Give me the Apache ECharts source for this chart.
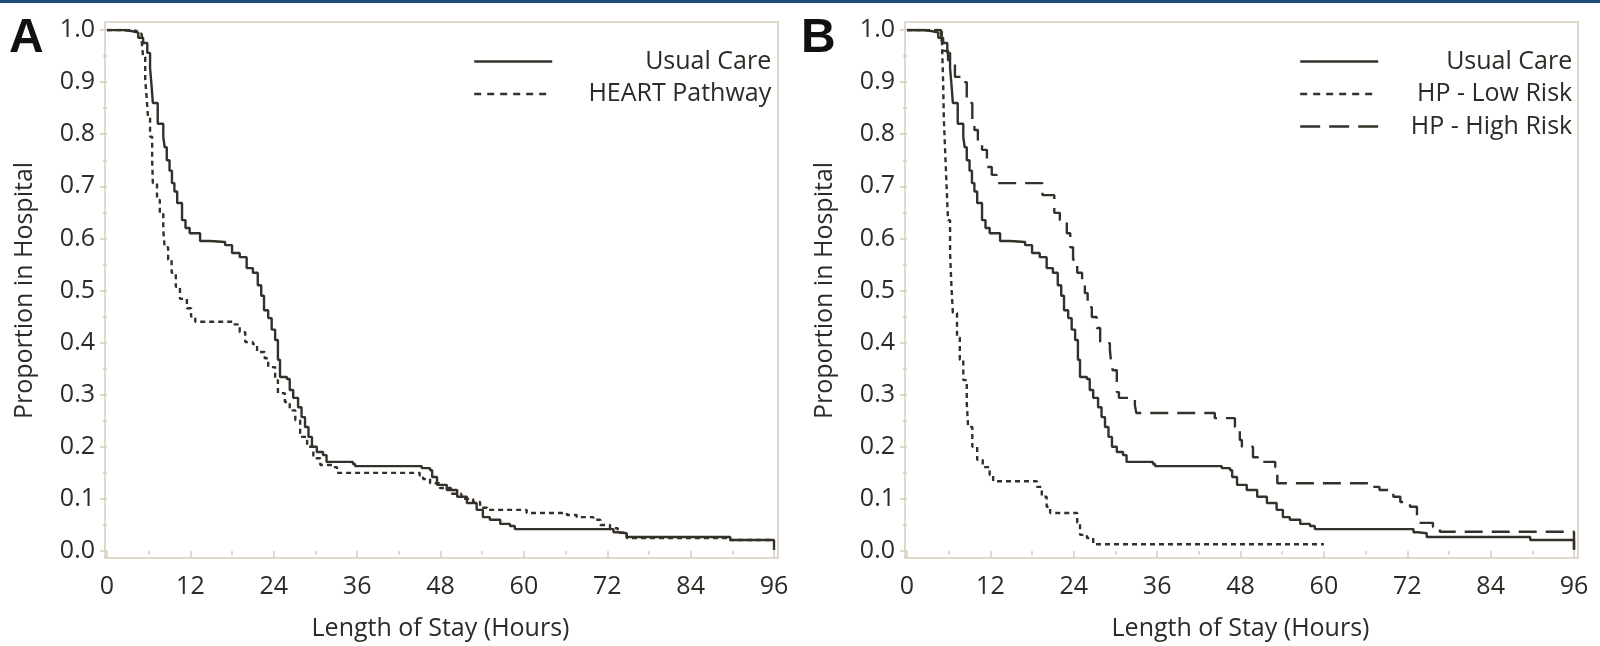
<!DOCTYPE html>
<html>
<head>
<meta charset="utf-8">
<script src="https://cdn.jsdelivr.net/npm/echarts@6/dist/echarts.min.js"></script>
<style>
html,body{margin:0;padding:0;background:#fff;}
#chart{width:1600px;height:646px;}
</style>
</head>
<body>
<div id="chart"></div>
<script>
// ---- data (hours, proportion still in hospital) ----
const xTicks = [0, 12, 24, 36, 48, 60, 72, 84, 96];
const yTicks = [0.0, 0.1, 0.2, 0.3, 0.4, 0.5, 0.6, 0.7, 0.8, 0.9, 1.0];

const usualCare = [
  [0,1.0],[2.3,0.998],[3.5,0.995],[4.5,0.985],[5.2,0.975],[5.8,0.956],[6.2,0.927],[6.4,0.895],[6.6,0.86],
  [7.3,0.82],[8.1,0.795],[8.3,0.775],[8.6,0.75],[9.0,0.73],[9.35,0.706],[9.7,0.69],[10.1,0.668],[10.8,0.635],[11.3,0.62],[11.9,0.61],
  [13.4,0.595],[14.8,0.593],[17,0.587],[18,0.572],[19.1,0.564],[20.1,0.543],[21,0.534],
  [21.7,0.51],[22.2,0.49],[22.6,0.462],[23.2,0.447],[23.7,0.425],[24.2,0.405],[24.6,0.367],
  [24.9,0.334],[25.9,0.33],[26.3,0.309],[26.8,0.294],[27.5,0.276],[28,0.257],[28.5,0.238],
  [29,0.219],[29.5,0.2],[30.2,0.19],[31.1,0.184],[31.6,0.171],[35.4,0.167],[35.7,0.163],
  [45.3,0.159],[46.5,0.155],[46.8,0.142],[47.5,0.127],[48.9,0.117],[50.4,0.104],[51.8,0.092],
  [53.2,0.079],[54.1,0.065],[55.1,0.06],[56.6,0.052],[58,0.048],[58.7,0.042],[72.9,0.036],
  [73.5,0.034],[74.8,0.027],[89.7,0.021],[96,0.021],[96,0.002]
];

const heartPathway = [
  [0,1.0],[3.5,0.998],[4.3,0.993],[5.0,0.977],[5.2,0.948],[5.5,0.904],[5.7,0.871],[5.9,0.833],
  [6.2,0.795],[6.5,0.75],[6.6,0.706],[7.2,0.674],[7.6,0.649],[8.1,0.616],[8.3,0.583],[8.8,0.559],
  [9.3,0.534],[9.9,0.507],[10.5,0.484],[11.5,0.466],[12.1,0.45],[12.7,0.44],[18.1,0.435],
  [19.1,0.42],[19.9,0.401],[21,0.397],[21.6,0.382],[22.7,0.37],[23.2,0.353],[24.2,0.328],
  [24.6,0.303],[25.6,0.286],[26.3,0.27],[27.1,0.251],[27.8,0.219],[28.8,0.2],[29.7,0.178],
  [30.7,0.165],[32.5,0.161],[33.1,0.15],[45,0.145],[45.5,0.138],[46.5,0.13],[47.9,0.121],
  [49.5,0.11],[51,0.1],[52.7,0.094],[53.7,0.083],[54.7,0.079],[60.4,0.073],[66.2,0.069],
  [67.6,0.065],[70,0.06],[71,0.05],[72.4,0.044],[73.5,0.035],[74.8,0.025],[89.7,0.021],[96,0.021]
];

const lowRisk = [
  [0,1.0],[4.7,1.0],[5.0,0.99],[5.2,0.9],[5.3,0.83],[5.5,0.764],[5.7,0.7],[5.9,0.635],[6.2,0.572],
  [6.4,0.507],[6.6,0.457],[7.2,0.41],[7.6,0.367],[8.1,0.328],[8.6,0.284],[8.8,0.238],[9.4,0.2],
  [10.1,0.175],[10.9,0.161],[11.9,0.146],[12.4,0.134],[18.7,0.123],[19.4,0.104],[20.1,0.085],
  [20.6,0.073],[24.5,0.054],[24.9,0.031],[25.9,0.025],[26.8,0.013],[60,0.013]
];

const highRisk = [
  [0,1.0],[4.9,0.995],[5.1,0.96],[5.9,0.942],[6.9,0.91],[7.9,0.9],[8.6,0.86],[9.4,0.827],
  [9.7,0.808],[10.2,0.783],[10.8,0.77],[11.5,0.737],[12.2,0.722],[12.9,0.706],[19.5,0.683],
  [21.2,0.649],[22,0.635],[23,0.61],[23.5,0.583],[23.9,0.559],[24.5,0.534],[25.2,0.514],
  [25.6,0.495],[26,0.468],[26.6,0.449],[27.3,0.428],[27.8,0.399],[29.2,0.386],[29.4,0.36],
  [29.6,0.347],[30.2,0.305],[30.5,0.294],[32.8,0.28],[33,0.265],[44.3,0.255],[47.2,0.238],
  [47.9,0.213],[48.2,0.2],[49.8,0.18],[50.5,0.171],[53,0.161],[53.3,0.13],[66.4,0.123],
  [68,0.117],[70,0.104],[71,0.094],[72.4,0.085],[73.4,0.069],[73.6,0.054],[75.7,0.046],
  [76.7,0.037],[96,0.037],[96,0.002]
];

const panelLetters = ['A', 'B'];
const xTitle = 'Length of Stay (Hours)';
const yTitle = 'Proportion in Hospital';

// ---- styling ----
const FONT = '"Open Sans", "Noto Sans", sans-serif';
const TXT = '#2e2a26';
const FRAME = '#d6ccbb';
const LINE = '#35302a';
const DOT = [5, 4];
const DASH = [18, 9];

const chart = echarts.init(document.getElementById('chart'), null, {renderer: 'canvas'});

function frameGrid(left) {
  return {left: left, top: 22, width: 673, height: 536, show: true, borderColor: FRAME, borderWidth: 1.5, backgroundColor: 'transparent', containLabel: false};
}
function dataGrid(left) {
  return {left: left, top: 30, width: 667, height: 521, containLabel: false};
}
function hiddenX(g) { return {type: 'value', gridIndex: g, show: false, min: 0, max: 1}; }
function hiddenY(g) { return {type: 'value', gridIndex: g, show: false, min: 0, max: 1}; }
function dataX(g) {
  return {
    type: 'value', gridIndex: g, min: xTicks[0], max: xTicks[xTicks.length - 1], interval: 12,
    offset: 7,
    axisLine: {show: false},
    axisTick: {show: true, length: 7, lineStyle: {color: FRAME, width: 1.5}},
    minorTick: {show: true, splitNumber: 2, length: 4, lineStyle: {color: FRAME, width: 1.5}},
    splitLine: {show: false}, minorSplitLine: {show: false},
    axisLabel: {margin: 16, fontSize: 25, fontFamily: FONT, color: TXT},
    name: xTitle, nameLocation: 'middle', nameGap: 58,
    nameTextStyle: {fontSize: 25, fontFamily: FONT, color: TXT}
  };
}
function dataY(g) {
  return {
    type: 'value', gridIndex: g, min: yTicks[0], max: yTicks[yTicks.length - 1], interval: 0.1,
    offset: 2,
    axisLine: {show: false},
    axisTick: {show: true, length: 7, lineStyle: {color: FRAME, width: 1.5}},
    minorTick: {show: true, splitNumber: 2, length: 4, lineStyle: {color: FRAME, width: 1.5}},
    splitLine: {show: false}, minorSplitLine: {show: false},
    axisLabel: {margin: 10, fontSize: 25, fontFamily: FONT, color: TXT, formatter: v => v.toFixed(1)},
    name: yTitle, nameLocation: 'middle', nameGap: 68,
    nameTextStyle: {fontSize: 25, fontFamily: FONT, color: TXT}
  };
}
function km(name, data, axis, dash) {
  return {
    name: name, type: 'line', xAxisIndex: axis, yAxisIndex: axis, data: data, step: 'end',
    symbol: 'none', silent: true, animation: false,
    lineStyle: {color: LINE, width: 2.4, type: dash || 'solid'},
    itemStyle: {color: LINE}
  };
}
function legend(left, width, names, styles) {
  return {
    left: left, top: 44, orient: 'vertical', itemWidth: 78, itemHeight: 24, itemGap: 7.5,
    selectedMode: false,
    itemStyle: {opacity: 0},
    data: names.map((n, i) => ({name: n, itemStyle: {opacity: 0}, lineStyle: {type: styles[i], width: 2.4, color: LINE}})),
    formatter: '{t|{name}}',
    textStyle: {rich: {t: {width: width, align: 'right', fontSize: 25, fontFamily: FONT, color: TXT, lineHeight: 24}}}
  };
}

const option = {
  backgroundColor: '#ffffff',
  animation: false,
  title: [
    {text: panelLetters[0], left: 9, top: 15, padding: 0, textStyle: {fontFamily: '"Liberation Sans", Arial, sans-serif', fontWeight: 'bold', fontSize: 48, color: '#111'}},
    {text: panelLetters[1], left: 801, top: 15, padding: 0, textStyle: {fontFamily: '"Liberation Sans", Arial, sans-serif', fontWeight: 'bold', fontSize: 48, color: '#111'}}
  ],
  grid: [frameGrid(105), dataGrid(107), frameGrid(905), dataGrid(907)],
  xAxis: [hiddenX(0), dataX(1), hiddenX(2), dataX(3)],
  yAxis: [hiddenY(0), dataY(1), hiddenY(2), dataY(3)],
  legend: [
    legend(468, 214, ['Usual Care', 'HEART Pathway'], ['solid', [7, 6]]),
    legend(1294, 189, ['Usual Care', 'HP - Low Risk', 'HP - High Risk'], ['solid', [7, 6], [20, 9]])
  ],
  graphic: [
    {type: 'rect', left: 0, top: 0, shape: {width: 1600, height: 3}, style: {fill: '#1f4e79'}, silent: true}
  ],
  series: [
    km('Usual Care', usualCare, 1),
    km('HEART Pathway', heartPathway, 1, DOT),
    km('Usual Care', usualCare, 3),
    km('HP - Low Risk', lowRisk, 3, DOT),
    km('HP - High Risk', highRisk, 3, DASH)
  ]
};
chart.setOption(option);
</script>
</body>
</html>
